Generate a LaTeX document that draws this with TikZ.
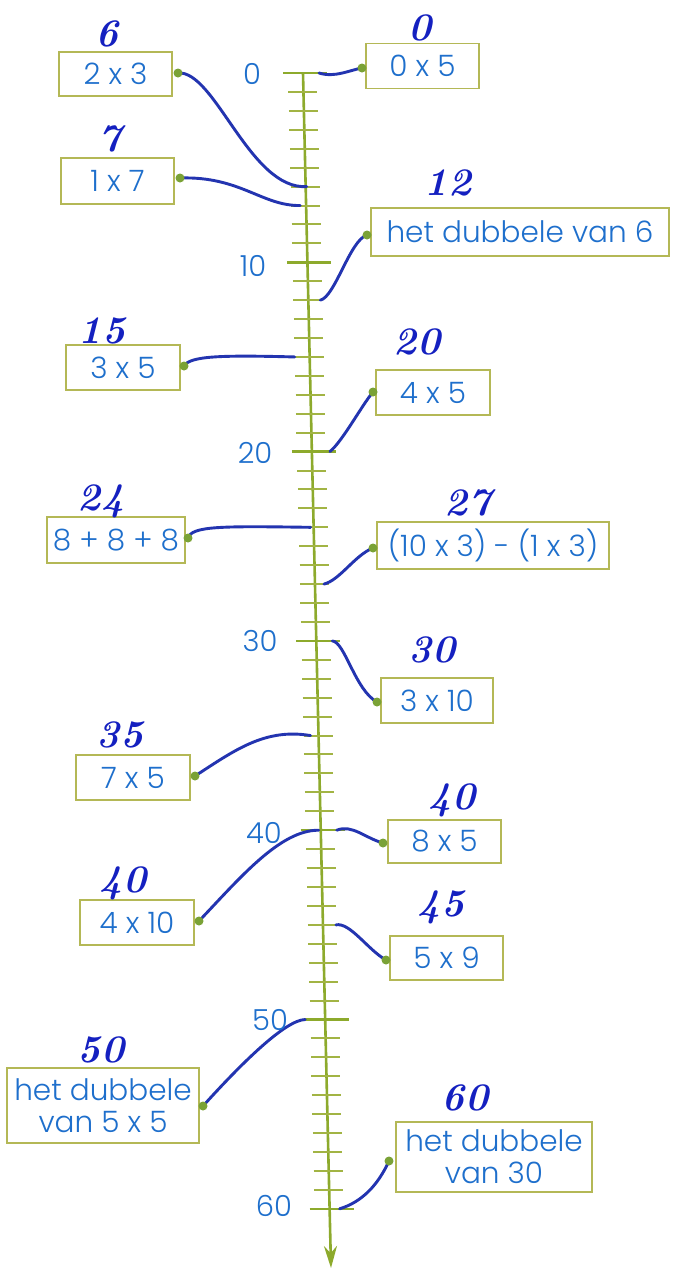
\documentclass[tikz,border=0pt]{standalone}
\usepackage{fontspec}
\newfontfamily\boxfont{Poppins Light}
\usetikzlibrary{arrows.meta}
\definecolor{boxblue}{HTML}{1E6FCC}
\definecolor{handblue}{HTML}{1420C0}
\definecolor{linkblue}{HTML}{2334B0}
\definecolor{boxedge}{HTML}{B4B856}
\definecolor{axisgreen}{HTML}{8DAA2C}
\definecolor{tickgreen}{HTML}{A2B444}
\definecolor{dotgreen}{HTML}{7AA236}
\pgfdeclarelayer{axislayer}
\pgfdeclarelayer{linklayer}
\pgfsetlayers{axislayer,linklayer,main}
\begin{document}
\begin{tikzpicture}[x=1pt,y=-1pt,
  numbox/.style={draw=boxedge, line width=1.8pt, fill=white, inner sep=0pt, align=center,
    font=\boxfont\fontsize{29.5}{32}\selectfont, text=boxblue},
  hand/.style={font=\fontsize{39}{40}\selectfont\bfseries\itshape, text=handblue},
  axnum/.style={font=\boxfont\fontsize{29}{30}\selectfont, text=boxblue},
  conn/.style={draw=linkblue, line width=2.9pt, line cap=round},
  dotpt/.style={circle, fill=dotgreen, inner sep=0pt, minimum size=9pt},
  minortick/.style={draw=tickgreen, line width=2pt},
  majortick/.style={draw=axisgreen, line width=2.4pt}]
\useasboundingbox (0,0) rectangle (675,1280);

% axis
\coordinate (axtop) at (303,73);
\coordinate (axbot) at (331,1268);
\foreach \v in {0,...,60} {
  \pgfmathsetmacro\ty{73+18.93*\v}
  \pgfmathsetmacro\tx{303+0.0234*(\ty-73)}
  \coordinate (t\v) at (\tx,\ty);
}
\begin{pgfonlayer}{axislayer}
  \fill[white] (0,0) rectangle (675,1280);
  \draw[axisgreen, line width=2.6pt, -{Stealth[length=22pt,width=13pt]}] (axtop) -- (axbot);
  \foreach \v in {0,...,60} {
    \draw[minortick] ([xshift=-15pt]t\v) -- ([xshift=14pt]t\v);
  }
  \foreach \v in {0,10,...,60} {
    \draw[majortick] ([xshift=-20pt]t\v) -- ([xshift=24pt]t\v);
  }
\end{pgfonlayer}

% axis numbers
\node[axnum] (n0) at (252,74) {0};
\node[axnum] (n10) at (253,266) {10};
\node[axnum] (n20) at (255,453) {20};
\node[axnum] (n30) at (260,641) {30};
\node[axnum] (n40) at (264,833) {40};
\node[axnum] (n50) at (270,1020) {50};
\node[axnum] (n60) at (274,1206) {60};

% boxes left
\node[numbox, minimum width=113pt, minimum height=44pt] (b6) at (115.5,74) {2 x 3};
\node[numbox, minimum width=113pt, minimum height=46pt] (b7) at (117.5,181) {1 x 7};
\node[numbox, minimum width=114pt, minimum height=45pt] (b15) at (123,367.5) {3 x 5};
\node[numbox, minimum width=138pt, minimum height=46pt] (b24) at (116,540) {8 + 8 + 8};
\node[numbox, minimum width=114pt, minimum height=45pt] (b35) at (133,777.5) {7 x 5};
\node[numbox, minimum width=114pt, minimum height=45pt] (b40l) at (137,922.5) {4 x 10};
\node[numbox, minimum width=192pt, minimum height=75pt] (b50) at (103,1105.5) {het dubbele\\van 5 x 5};
% boxes right
\node[numbox, minimum width=113pt, minimum height=45pt] (b0) at (422.5,66) {0 x 5};
\node[numbox, minimum width=298pt, minimum height=48pt] (b12) at (520,232) {het dubbele van 6};
\node[numbox, minimum width=114pt, minimum height=45pt] (b20) at (433,392.5) {4 x 5};
\node[numbox, minimum width=232pt, minimum height=47pt] (b27) at (493,545.5) {(10 x 3) - (1 x 3)};
\node[numbox, minimum width=112pt, minimum height=45pt] (b30) at (437,700.5) {3 x 10};
\node[numbox, minimum width=113pt, minimum height=43pt] (b40r) at (444.5,841.5) {8 x 5};
\node[numbox, minimum width=113pt, minimum height=44pt] (b45) at (446.5,958) {5 x 9};
\node[numbox, minimum width=196pt, minimum height=70pt] (b60) at (494,1157) {het dubbele\\van 30};

% handwritten answers
\node[hand] (h6) at (107,34) {6};
\node[hand] (h7) at (110,139) {7};
\node[hand] (h0) at (420,28) {0};
\node[hand] (h12) at (448,183) {12};
\node[hand] (h15) at (102,331) {15};
\node[hand] (h20) at (417,342) {20};
\node[hand] (h24) at (101,501) {24};
\node[hand] (h27) at (468,503) {27};
\node[hand] (h30) at (432,650) {30};
\node[hand] (h35) at (120,735) {35};
\node[hand] (h40r) at (452,800) {40};
\node[hand] (h40l) at (123,883) {40};
\node[hand] (h45) at (441,907) {45};
\node[hand] (h50) at (101,1050) {50};
\node[hand] (h60) at (465,1098) {60};

% dots
\node[dotpt] (d6) at (178,73) {};
\node[dotpt] (d7) at (180,178) {};
\node[dotpt] (d15) at (184,366) {};
\node[dotpt] (d24) at (188,538) {};
\node[dotpt] (d35) at (195,776) {};
\node[dotpt] (d40l) at (199,921) {};
\node[dotpt] (d50) at (203,1106) {};
\node[dotpt] (d0) at (362,68) {};
\node[dotpt] (d12) at (367,235) {};
\node[dotpt] (d20) at (373,392) {};
\node[dotpt] (d27) at (373,548) {};
\node[dotpt] (d30) at (377,702) {};
\node[dotpt] (d40r) at (383,843) {};
\node[dotpt] (d45) at (386,960) {};
\node[dotpt] (d60) at (389,1161) {};

% connectors
\begin{pgfonlayer}{linklayer}
  \draw[conn] (d6.center) .. controls (215,70) and (250,190) .. ([xshift=1pt]t6);
  \draw[conn] (d7.center) .. controls (240,176) and (262,206) .. ([xshift=-6pt]t7);
  \draw[conn] (d15.center) .. controls (190,356) and (220,355) .. ([xshift=-15pt]t15);
  \draw[conn] (d24.center) .. controls (192,526) and (220,526) .. ([xshift=-3pt]t24);
  \draw[conn] (d35.center) .. controls (235,750) and (265,728) .. ([xshift=-8pt]t35);
  \draw[conn] (d40l.center) .. controls (240,878) and (280,830) .. ([xshift=-2pt]t40);
  \draw[conn] (d50.center) .. controls (240,1065) and (285,1020) .. ([xshift=-20pt]t50);
  \draw[conn] ([xshift=16pt]t0) .. controls (335,78) and (350,70) .. (d0.center);
  \draw[conn] ([xshift=12pt]t12) .. controls (335,297) and (350,240) .. (d12.center);
  \draw[conn] ([xshift=18pt]t20) .. controls (342,442) and (362,405) .. (d20.center);
  \draw[conn] ([xshift=9pt]t27) .. controls (340,580) and (355,555) .. (d27.center);
  \draw[conn] ([xshift=16pt]t30) .. controls (345,642) and (355,690) .. (d30.center);
  \draw[conn] ([xshift=16pt]t40) .. controls (352,824) and (365,838) .. (d40r.center);
  \draw[conn] ([xshift=13pt]t45) .. controls (350,922) and (368,950) .. (d45.center);
  \draw[conn] ([xshift=10pt]t60) .. controls (362,1202) and (378,1185) .. (d60.center);
\end{pgfonlayer}
\end{tikzpicture}
\end{document}
